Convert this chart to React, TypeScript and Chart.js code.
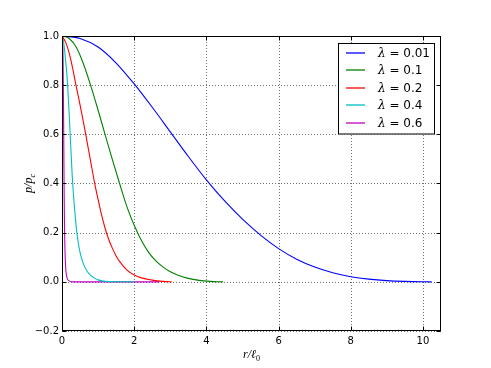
import { useEffect, useRef } from 'react';
import { Chart, registerables } from 'chart.js';

Chart.register(...registerables);

// ---------- data ----------
const seriesLabels = ['0.01', '0.1', '0.2', '0.4', '0.6'];
const seriesColors = ['#0000ff', '#008000', '#ff0000', '#00bfbf', '#bf00bf'];

const blueX = [0, 0.5, 1, 1.5, 2, 2.5, 3, 3.5, 4, 4.5, 5, 5.5, 6, 6.5, 7, 7.5, 8, 8.5, 9, 9.5, 10.24];
const blueY = [1, 0.99, 0.955, 0.89, 0.805, 0.71, 0.61, 0.51, 0.415, 0.33, 0.255, 0.19, 0.135, 0.092, 0.06, 0.037, 0.021, 0.011, 0.005, 0.002, 0];

const greenX = [0, 0.2, 0.4, 0.6, 0.8, 1.0, 1.2, 1.4, 1.6, 1.8, 2.0, 2.2, 2.4, 2.6, 2.8, 3.0, 3.2, 3.5, 3.8, 4.1, 4.46];
const greenY = [1, 0.99, 0.953, 0.884, 0.796, 0.698, 0.596, 0.495, 0.398, 0.305, 0.23, 0.168, 0.12, 0.085, 0.06, 0.041, 0.028, 0.014, 0.006, 0.002, 0];

const redX = [0, 0.1, 0.2, 0.3, 0.4, 0.5, 0.6, 0.7, 0.8, 0.9, 1.0, 1.1, 1.2, 1.3, 1.4, 1.5, 1.6, 1.8, 2.0, 2.2, 2.5, 2.8, 3.04];
const redY = [1, 0.975, 0.93, 0.865, 0.79, 0.72, 0.645, 0.565, 0.485, 0.405, 0.335, 0.27, 0.215, 0.17, 0.135, 0.105, 0.082, 0.048, 0.028, 0.016, 0.007, 0.002, 0];

const cyanX = [0, 0.04, 0.08, 0.12, 0.16, 0.2, 0.24, 0.28, 0.32, 0.36, 0.4, 0.45, 0.5, 0.55, 0.6, 0.7, 0.8, 0.9, 1.0, 1.2, 2.0];
const cyanY = [1, 0.98, 0.93, 0.87, 0.79, 0.68, 0.56, 0.44, 0.35, 0.28, 0.215, 0.16, 0.12, 0.092, 0.07, 0.042, 0.025, 0.015, 0.008, 0.002, 0];

const magentaX = [0, 0.02, 0.03, 0.04, 0.05, 0.06, 0.07, 0.08, 0.1, 0.12, 0.15, 0.2, 0.3, 2.7];
const magentaY = [1, 0.97, 0.9, 0.75, 0.55, 0.35, 0.22, 0.14, 0.06, 0.03, 0.012, 0.004, 0, 0];

const seriesXs = [blueX, greenX, redX, cyanX, magentaX];
const seriesYs = [blueY, greenY, redY, cyanY, magentaY];

const xTicks = [0, 2, 4, 6, 8, 10];
const yTicks = [-0.2, 0, 0.2, 0.4, 0.6, 0.8, 1.0];
const xMin = 0;
const xMax = 10.5;
const yMin = -0.2;
const yMax = 1.0;

const fmtY = (v: number) => (v < 0 ? '\u2212' : '') + Math.abs(v).toFixed(1);

const overlay = {
  id: 'overlay',
  beforeDatasetsDraw(chart: any) {
    const { ctx, chartArea: a, scales } = chart;
    ctx.save();
    ctx.strokeStyle = 'rgba(0,0,0,0.55)';
    ctx.lineWidth = 1;
    ctx.setLineDash([1, 2]);
    for (const v of xTicks) {
      const px = Math.round(scales.x.getPixelForValue(v)) + 0.5;
      ctx.beginPath();
      ctx.moveTo(px, a.top);
      ctx.lineTo(px, a.bottom);
      ctx.stroke();
    }
    for (const v of yTicks) {
      const py = Math.round(scales.y.getPixelForValue(v)) + 0.5;
      ctx.beginPath();
      ctx.moveTo(a.left, py);
      ctx.lineTo(a.right, py);
      ctx.stroke();
    }
    ctx.restore();
  },
  afterDatasetsDraw(chart: any) {
    const { ctx, chartArea: a, scales } = chart;
    ctx.save();
    ctx.setLineDash([]);
    ctx.strokeStyle = '#000';
    ctx.lineWidth = 1;
    const L = Math.round(a.left) + 0.5;
    const R = Math.round(a.right) - 0.5;
    const T = Math.round(a.top) + 0.5;
    const B = Math.round(a.bottom) - 0.5;
    ctx.strokeRect(L, T, R - L, B - T);
    const tl = 4;
    ctx.beginPath();
    for (const v of xTicks) {
      const px = Math.round(scales.x.getPixelForValue(v)) + 0.5;
      ctx.moveTo(px, B);
      ctx.lineTo(px, B - tl);
      ctx.moveTo(px, T);
      ctx.lineTo(px, T + tl);
    }
    for (const v of yTicks) {
      const py = Math.round(scales.y.getPixelForValue(v)) + 0.5;
      ctx.moveTo(L, py);
      ctx.lineTo(L + tl, py);
      ctx.moveTo(R, py);
      ctx.lineTo(R - tl, py);
    }
    ctx.stroke();

    // legend
    const boxR = Math.round(a.right) - 6;
    const boxL = boxR - 97;
    const boxT = Math.round(a.top) + 7;
    const rowH = 17.6;
    const boxH = 91.5;
    ctx.fillStyle = '#fff';
    ctx.fillRect(boxL, boxT, boxR - boxL, boxH);
    ctx.strokeStyle = '#000';
    ctx.strokeRect(boxL + 0.5, boxT + 0.5, boxR - boxL - 1, boxH - 1);
    chart.data.datasets.forEach((ds: any, i: number) => {
      const y = boxT + 9.5 + i * rowH;
      ctx.strokeStyle = ds.borderColor;
      ctx.lineWidth = 1.3;
      ctx.beginPath();
      ctx.moveTo(boxL + 8, Math.round(y));
      ctx.lineTo(boxL + 27, Math.round(y));
      ctx.stroke();
      ctx.fillStyle = '#000';
      ctx.textBaseline = 'middle';
      ctx.textAlign = 'left';
      let tx = boxL + 40;
      ctx.font = 'italic 12px "DejaVu Serif"';
      ctx.fillText('\u03bb', tx, y + 1);
      tx += ctx.measureText('\u03bb').width;
      ctx.font = '12px "DejaVu Sans"';
      ctx.fillText(' = ' + seriesLabels[i], tx, y + 1);
    });

    // axis titles
    const drawSub = (main: string, sub: string, cx: number, cy: number, rot: number) => {
      ctx.save();
      ctx.translate(cx, cy);
      ctx.rotate(rot);
      ctx.fillStyle = '#000';
      ctx.textBaseline = 'alphabetic';
      ctx.textAlign = 'left';
      ctx.font = 'italic 12px "Liberation Serif"';
      const w1 = ctx.measureText(main).width;
      ctx.font = 'italic 8px "Liberation Serif"';
      const w2 = ctx.measureText(sub).width;
      const x0 = -(w1 + w2) / 2;
      ctx.font = 'italic 12px "Liberation Serif"';
      ctx.fillText(main, x0, 3);
      ctx.font = sub === '0' ? '8px "Liberation Serif"' : 'italic 8px "Liberation Serif"';
      ctx.fillText(sub, x0 + w1, 5.5);
      ctx.restore();
    };
    drawSub('r/\u2113', '0', (a.left + a.right) / 2, 355, 0);
    drawSub('p/p', 'c', 29, (a.top + a.bottom) / 2, -Math.PI / 2);
    ctx.restore();
  },
};

export default function App() {
  const ref = useRef<HTMLCanvasElement | null>(null);
  useEffect(() => {
    if (!ref.current) return;
    const datasets = seriesLabels.map((lab, i) => ({
      label: 'λ = ' + lab,
      data: seriesXs[i].map((x, j) => ({ x, y: seriesYs[i][j] })),
      borderColor: seriesColors[i],
      backgroundColor: seriesColors[i],
      borderWidth: 1.1,
      pointRadius: 0,
      fill: false,
      cubicInterpolationMode: 'monotone' as const,
    }));
    const chart = new Chart(ref.current, {
      type: 'line',
      data: { datasets },
      options: {
        animation: false,
        responsive: false,
        layout: { padding: { left: 0, right: 50, top: 36, bottom: 0 } },
        plugins: { legend: { display: false }, tooltip: { enabled: false } },
        scales: {
          x: {
            type: 'linear',
            min: xMin,
            max: xMax,
            afterBuildTicks: (s: any) => {
              s.ticks = xTicks.map((v) => ({ value: v }));
            },
            afterFit: (s: any) => {
              s.height = 37;
            },
            grid: { display: false, drawTicks: false, tickLength: 0 },
            border: { display: false },
            ticks: {
              color: '#000',
              font: { family: 'DejaVu Sans', size: 10 },
              padding: 4,
              maxRotation: 0,
              autoSkip: false,
              callback: (v: any) => String(v),
            },
          },
          y: {
            type: 'linear',
            min: yMin,
            max: yMax,
            afterBuildTicks: (s: any) => {
              s.ticks = yTicks.map((v) => ({ value: v }));
            },
            afterFit: (s: any) => {
              s.width = 62;
            },
            grid: { display: false, drawTicks: false, tickLength: 0 },
            border: { display: false },
            ticks: {
              color: '#000',
              font: { family: 'DejaVu Sans', size: 10 },
              padding: 3,
              autoSkip: false,
              callback: (v: any) => fmtY(Number(v)),
            },
          },
        },
      },
      plugins: [overlay],
    });
    return () => chart.destroy();
  }, []);
  return (
    <div style={{ position: 'absolute', left: 0, top: 0, width: 491, height: 368, background: '#fff' }}>
      <canvas ref={ref} width={491} height={368} style={{ display: 'block' }} />
    </div>
  );
}
